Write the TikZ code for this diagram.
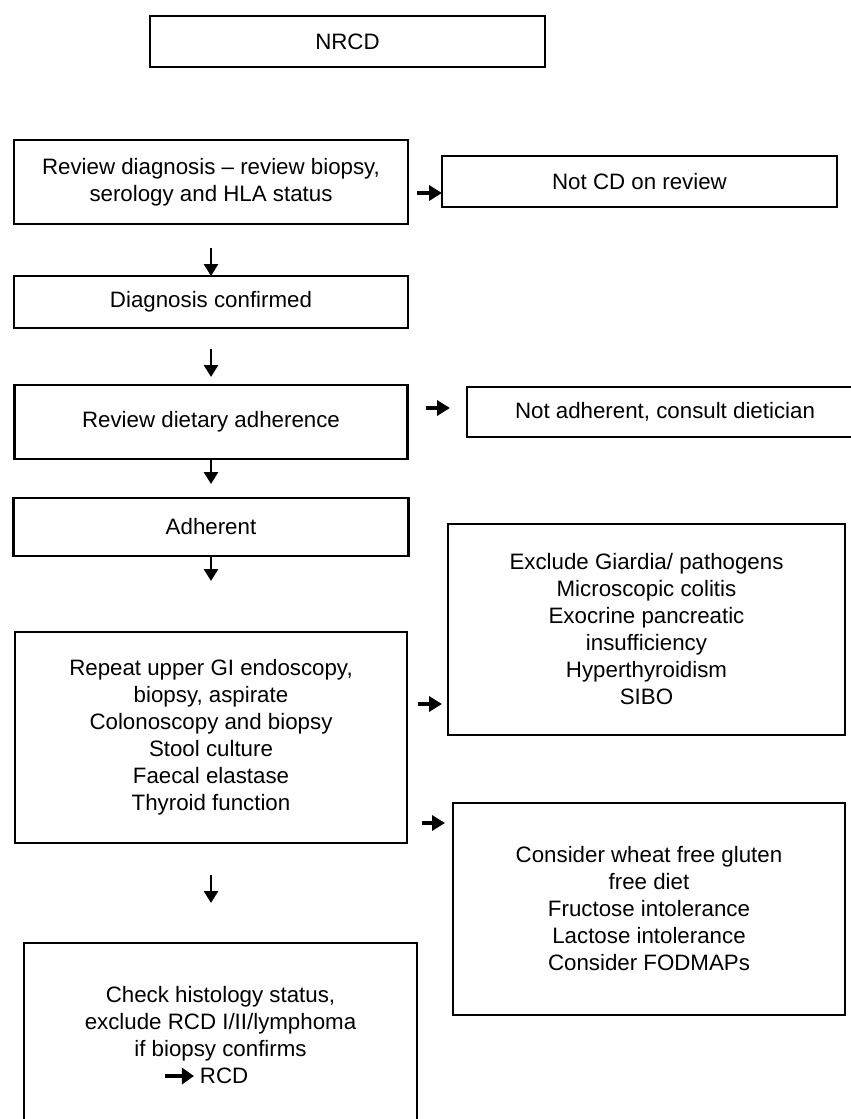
\documentclass[tikz,border=0pt]{standalone}
\usepackage{fontspec}
\setmainfont{Liberation Sans}
\usetikzlibrary{arrows.meta, positioning, calc}

\begin{document}
\begin{tikzpicture}[x=1pt, y=-1pt,
    flowbox/.style={draw=black, line width=2.8pt, align=center, inner sep=0pt, outer sep=0pt,
      font=\fontsize{22.3}{27}\selectfont},
    downarr/.style={-{Triangle[length=12pt, width=14pt]}, line width=2.6pt},
    sidearr/.style={-{Triangle[length=13pt, width=15pt]}, line width=4.5pt}]
  \useasboundingbox (0,0) rectangle (851,1119);
  % main column
  \node[flowbox, minimum width=395pt, minimum height=51pt] (nrcd) at (347.5,41.5) {NRCD};
  \node[flowbox, minimum width=394pt, minimum height=84pt] (review) at (211,182)
    {Review diagnosis – review biopsy,\\serology and HLA status};
  \node[flowbox, minimum width=394pt, minimum height=52pt, below=52pt of review] (confirmed)
    {Diagnosis confirmed};
  \node[flowbox, minimum width=393pt, minimum height=74pt, below=57pt of confirmed] (dietary)
    {Review dietary adherence};
  \node[flowbox, minimum width=395pt, minimum height=58pt, below=39pt of dietary] (adherent)
    {Adherent};
  \node[flowbox, minimum width=392pt, minimum height=211pt, below=76pt of adherent] (repeat)
    {Repeat upper GI endoscopy,\\biopsy, aspirate\\Colonoscopy and biopsy\\Stool culture\\Faecal elastase\\Thyroid function};
  \node[flowbox, minimum width=393pt, minimum height=184pt] (check) at (220.5,1035)
    {Check histology status,\\exclude RCD I/II/lymphoma\\if biopsy confirms\\
     \tikz[baseline=-0.6ex]\draw[-{Triangle[length=12pt, width=16pt]}, line width=4.5pt] (0pt,0pt) -- (29pt,0pt);\,RCD\hspace*{30pt}};
  % side boxes
  \node[flowbox, minimum width=395pt, minimum height=51pt] (notcd) at (639.5,181.5) {Not CD on review};
  \node[flowbox, minimum width=396pt, minimum height=50pt] (notadh) at (665,412)
    {Not adherent, consult dietician};
  \node[flowbox, minimum width=397pt, minimum height=211pt] (exclude) at (646.5,629.5)
    {Exclude Giardia/ pathogens\\Microscopic colitis\\Exocrine pancreatic\\insufficiency\\Hyperthyroidism\\SIBO};
  \node[flowbox, minimum width=392pt, minimum height=212pt] (consider) at (649,909)
    {Consider wheat free gluten\\free diet\\Fructose intolerance\\Lactose intolerance\\Consider FODMAPs};
  % arrows
  \draw[sidearr] ([shift={(9,11)}]review.east) -- ([shift={(0,11.5)}]notcd.west);
  \draw[downarr] ([yshift=-24pt]review.south) -- (confirmed.north);
  \draw[downarr] ([yshift=-21pt]confirmed.south) -- ([yshift=8pt]dietary.north);
  \draw[sidearr] ([shift={(18,-14)}]dietary.east) -- ([shift={(-17,-4)}]notadh.west);
  \draw[downarr] (dietary.south) -- ([yshift=14pt]adherent.north);
  \draw[downarr] (adherent.south) -- ([yshift=51pt]repeat.north);
  \draw[sidearr] ([shift={(11,-33.5)}]repeat.east) -- ([shift={(-6,74.5)}]exclude.west);
  \draw[sidearr] ([shift={(15,85.5)}]repeat.east) -- ([shift={(-8,-86)}]consider.west);
  \draw[downarr] ([yshift=-32pt]repeat.south) -- ($(repeat.south |- check.north)+(0,-40)$);
\end{tikzpicture}
\end{document}
